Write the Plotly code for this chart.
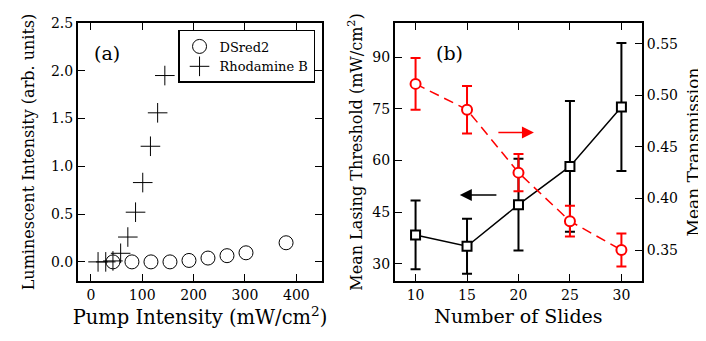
import plotly.graph_objects as go

# panel (a): luminescence vs pump intensity
dsred_x = [43, 80, 117, 154, 191, 228, 265, 302, 380]
dsred_y = [0.0, 0.0, 0.0, 0.0, 0.015, 0.04, 0.065, 0.095, 0.2]
rhod_x = [14, 29, 43, 58, 72, 87, 101, 116, 130, 144]
rhod_y = [0.0, 0.0, 0.01, 0.09, 0.26, 0.52, 0.83, 1.21, 1.56, 1.95]

# panel (b): threshold and transmission vs number of slides
slides = [10, 15, 20, 25, 30]
threshold = [38.4, 35.1, 47.2, 58.3, 75.6]
threshold_err = [10.0, 8.0, 13.3, 19.0, 18.6]
transmission = [0.511, 0.486, 0.425, 0.378, 0.350]
transmission_err = [0.025, 0.023, 0.018, 0.015, 0.016]

FONT = "DejaVu Serif"
RED = "#ff0000"

# the page body keeps its default 8px margin, so the figure is 8px smaller
W, H = 698, 333

fig = go.Figure()

fig.add_trace(go.Scatter(
    x=dsred_x, y=dsred_y, mode="markers", name="DSred2",
    marker=dict(symbol="circle-open", size=14, color="black", line=dict(width=1)),
    xaxis="x", yaxis="y",
))
fig.add_trace(go.Scatter(
    x=rhod_x, y=rhod_y, mode="markers", name="Rhodamine B",
    marker=dict(symbol="cross-thin-open", size=14, color="black", line=dict(width=1)),
    xaxis="x", yaxis="y",
))

fig.add_trace(go.Scatter(
    x=slides, y=threshold, mode="lines+markers", showlegend=False,
    line=dict(color="black", width=1.5),
    marker=dict(symbol="square", size=9, color="white", line=dict(width=2, color="black")),
    error_y=dict(type="data", array=threshold_err, color="black", thickness=2, width=5),
    xaxis="x2", yaxis="y2",
))
fig.add_trace(go.Scatter(
    x=slides, y=transmission, mode="lines+markers", showlegend=False,
    line=dict(color=RED, width=1.5, dash="10px,6px"),
    marker=dict(symbol="circle", size=10, color="white", line=dict(width=2, color=RED)),
    error_y=dict(type="data", array=transmission_err, color=RED, thickness=2, width=5),
    xaxis="x2", yaxis="y3",
))

tick_font = dict(family=FONT, size=14, color="black")
common = dict(
    showline=True, linecolor="black", linewidth=2, ticks="inside", ticklen=7,
    tickwidth=1, tickcolor="black", showgrid=False, zeroline=False,
    tickfont=tick_font, automargin=False,
)
y_dom = [0.1802, 0.955]

fig.update_layout(
    width=W, height=H,
    margin=dict(l=0, r=0, t=0, b=0),
    paper_bgcolor="white", plot_bgcolor="white",
    font=dict(family=FONT, color="black"),
    xaxis=dict(
        domain=[0.1003, 0.4499], range=[-25, 450], tickvals=[0, 100, 200, 300, 400],
        mirror="ticks", anchor="y",
        title=dict(text="Pump Intensity (mW/cm<sup>2</sup>)", font=dict(family=FONT, size=19.5), standoff=8),
        **common,
    ),
    yaxis=dict(
        domain=y_dom, range=[-0.2, 2.5], tickvals=[0, 0.5, 1.0, 1.5, 2.0, 2.5],
        tickformat=".1f", mirror="ticks", anchor="x",
        title=dict(text="Luminescent Intensity (arb. units)", font=dict(family=FONT, size=16), standoff=12),
        **common,
    ),
    xaxis2=dict(
        domain=[0.5544, 0.9083], range=[8, 32], tickvals=slides,
        mirror="ticks", anchor="y2",
        title=dict(text="Number of Slides", font=dict(family=FONT, size=19), standoff=8),
        **common,
    ),
    yaxis2=dict(
        domain=y_dom, range=[25, 100], tickvals=[30, 45, 60, 75, 90],
        anchor="x2",
        title=dict(text="Mean Lasing Threshold (mW/cm<sup>2</sup>)", font=dict(family=FONT, size=16), standoff=6),
        **common,
    ),
    yaxis3=dict(
        range=[0.32, 0.57], tickvals=[0.35, 0.40, 0.45, 0.50, 0.55], tickformat=".2f",
        overlaying="y2", side="right", anchor="x2",
        title=dict(text="Mean Transmission", font=dict(family=FONT, size=17), standoff=10),
        **common,
    ),
    legend=dict(
        x=0.2436, y=0.934, xanchor="left", yanchor="top",
        bordercolor="black", borderwidth=1.5, bgcolor="white",
        font=dict(family=FONT, size=13), tracegroupgap=0,
    ),
)

fig.add_annotation(text="(a)", x=32, y=2.19, xref="x", yref="y",
                   xanchor="center", yanchor="middle",
                   showarrow=False, font=dict(family=FONT, size=19))
fig.add_annotation(text="(b)", x=13.3, y=91.3, xref="x2", yref="y2",
                   xanchor="center", yanchor="middle",
                   showarrow=False, font=dict(family=FONT, size=19))

# direction arrows pointing at each curve's axis
fig.add_annotation(x=21.5, y=0.464, ax=17.9, ay=0.464, xref="x2", yref="y3",
                   axref="x2", ayref="y3", text="", showarrow=True,
                   arrowhead=2, arrowsize=1.6, arrowwidth=1.5, arrowcolor=RED)
fig.add_annotation(x=14.3, y=50, ax=18, ay=50, xref="x2", yref="y2",
                   axref="x2", ayref="y2", text="", showarrow=True,
                   arrowhead=2, arrowsize=1.6, arrowwidth=1.5, arrowcolor="black")

fig.write_html("out.html")
